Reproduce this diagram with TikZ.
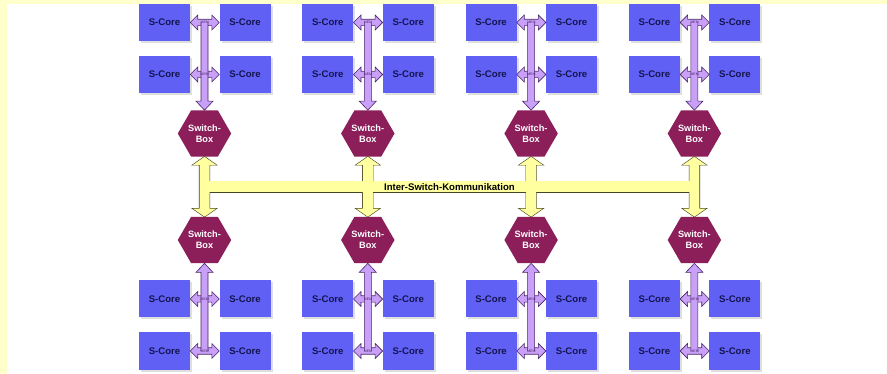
\documentclass[tikz,border=0pt]{standalone}
\usepackage{fontspec}
\newfontfamily\arialfont{Liberation Sans}
\usetikzlibrary{shapes.geometric,shadows,calc}
\definecolor{paleyellow}{RGB}{255,255,204}
\definecolor{coreblue}{RGB}{96,96,244}
\definecolor{corenavy}{RGB}{20,20,80}
\definecolor{switchplum}{RGB}{140,30,90}
\definecolor{linklilac}{RGB}{200,160,248}
\definecolor{linkpurple}{RGB}{75,35,105}
\definecolor{buslemon}{RGB}{255,255,160}
\definecolor{busolive}{RGB}{70,70,30}

\begin{document}
\begin{tikzpicture}[x=1pt, y=-1pt,
    every node/.style={font=\arialfont\bfseries\fontsize{9.6}{10}\selectfont},
    core/.style={rectangle, fill=coreblue, text=corenavy, minimum width=51pt, minimum height=37pt, inner sep=0pt,
      drop shadow={shadow xshift=2pt, shadow yshift=-2pt, fill=black!25}},
    switchbox/.style={regular polygon, regular polygon sides=6, minimum size=49pt, inner sep=0pt, fill=switchplum,
      text=white, align=center, font=\arialfont\bfseries\fontsize{9.2}{11}\selectfont},
    memlink/.style={fill=linklilac, draw=linkpurple, line width=0.6pt},
    memtag/.style={font=\arialfont\fontsize{3.5}{4}\selectfont, text=linkpurple, inner sep=0pt},
    busline/.style={fill=buslemon, draw=busolive, line width=1.2pt},
    busfill/.style={fill=buslemon}]
    % frame
    \fill[paleyellow] (0,0) rectangle (887,374);
    \fill[white] (7,4) rectangle (887,374);
    \useasboundingbox (0,0) rectangle (887,374);

    % cores and switch boxes
    \foreach \c in {0,...,3} {
      \pgfmathsetmacro{\cx}{204.5+163.3*\c}
      \foreach \r/\ry in {1/22.5,2/74.5,3/299,4/351} {
        \node[core] (core-\c-\r-l) at (\cx-40,\ry) {S-Core};
        \node[core] (core-\c-\r-r) at (\cx+40.5,\ry) {S-Core};
      }
      \node[switchbox] (swt\c) at (\cx,133.5) {Switch-\\Box};
      \node[switchbox] (swb\c) at (\cx,240) {Switch-\\Box};
    }

    % core links
    \foreach \c in {0,...,3} {
      \foreach \r in {1,...,4} {
        \filldraw[memlink] let \p1=(core-\c-\r-l.east), \p2=(core-\c-\r-r.west) in
          (\x1,\y1) -- (\x1+7.5pt,\y1+7.5pt) -- (\x1+7.5pt,\y1+3.2pt) -- (\x2-7.5pt,\y1+3.2pt) -- (\x2-7.5pt,\y1+7.5pt)
          -- (\x2,\y1) -- (\x2-7.5pt,\y1-7.5pt) -- (\x2-7.5pt,\y1-3.2pt) -- (\x1+7.5pt,\y1-3.2pt) -- (\x1+7.5pt,\y1-7.5pt) -- cycle;
      }
      \filldraw[memlink] let \p1=(core-\c-1-l.east), \p2=(swt\c.north) in
        (\x2-3.5pt,\y1) -- (\x2-3.5pt,\y2+9pt) -- (\x2-8.5pt,\y2+9pt) -- (\x2,\y2) -- (\x2+8.5pt,\y2+9pt) -- (\x2+3.5pt,\y2+9pt) -- (\x2+3.5pt,\y1);
      \filldraw[memlink] let \p1=(core-\c-4-l.east), \p2=(swb\c.south) in
        (\x2-3.5pt,\y1) -- (\x2-3.5pt,\y2-9pt) -- (\x2-8.5pt,\y2-9pt) -- (\x2,\y2) -- (\x2+8.5pt,\y2-9pt) -- (\x2+3.5pt,\y2-9pt) -- (\x2+3.5pt,\y1);
      \foreach \r in {1,...,4}
        \node[memtag] (tag-\c-\r) at ($(core-\c-\r-l.east)!0.5!(core-\c-\r-r.west)$) {MEM};
    }

    % inter-switch bus: outline pass, then fill pass
    \foreach \sty in {busline,busfill} {
      \foreach \c in {0,...,3}
        \path[style=\sty] let \p1=(swt\c.south), \p2=(swb\c.north) in
          (\x1,\y1) -- (\x1+11.5pt,\y1-8pt) -- (\x1+5pt,\y1-8pt) -- (\x1+5pt,\y2+8pt) -- (\x1+11.5pt,\y2+8pt)
          -- (\x1,\y2) -- (\x1-11.5pt,\y2+8pt) -- (\x1-5pt,\y2+8pt) -- (\x1-5pt,\y1-8pt) -- (\x1-11.5pt,\y1-8pt) -- cycle;
      \path[style=\sty] let \p1=($(swt0.south)!0.5!(swb0.north)$), \p2=($(swt3.south)!0.5!(swb3.north)$) in
        (\x1,\y1+5.5pt) rectangle (\x2,\y2-5.5pt);
    }
    \node[inner sep=0pt] (isk) at ($(swt0.south)!0.5!(swb3.north)$) {Inter-Switch-Kommunikation};
  \end{tikzpicture}
\end{document}
